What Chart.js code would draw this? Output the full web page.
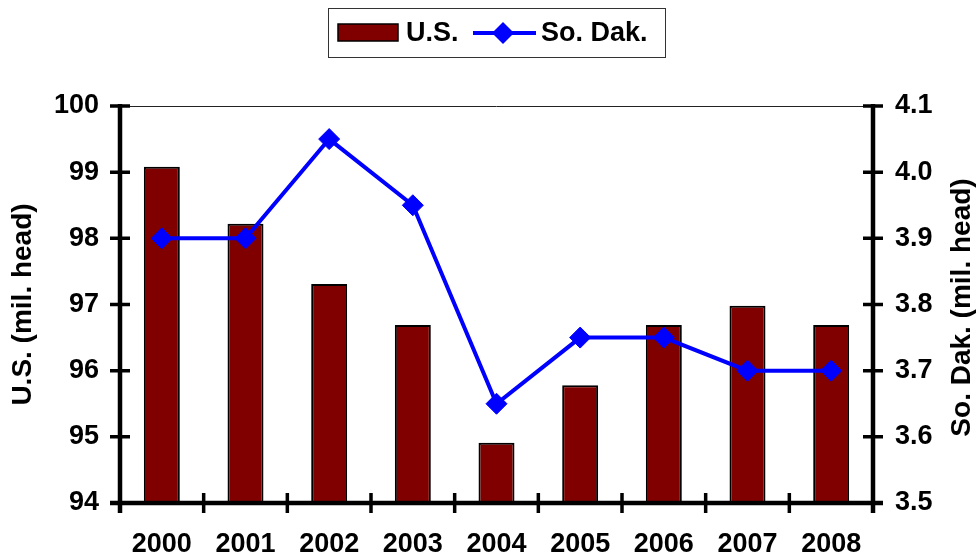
<!DOCTYPE html>
<html>
<head>
<meta charset="utf-8">
<title>U.S. and South Dakota cattle inventory</title>
<script src="https://cdn.jsdelivr.net/npm/chart.js@4/dist/chart.umd.min.js"></script>
<style>
  html, body { margin: 0; padding: 0; background: #fff; }
  #wrap { width: 978px; height: 560px; position: relative; }
</style>
</head>
<body>
<div id="wrap"><canvas id="cattleChart"></canvas></div>
<script>
// ---- Data ----
const years   = ['2000', '2001', '2002', '2003', '2004', '2005', '2006', '2007', '2008'];
const usHead  = [99.08, 98.22, 97.31, 96.69, 94.91, 95.78, 96.69, 96.98, 96.69];
const sdHead  = [3.90, 3.90, 4.05, 3.95, 3.65, 3.75, 3.75, 3.70, 3.70];
const usRange = [94, 100];
const sdRange = [3.5, 4.1];
const usStep  = 1;
const sdStep  = 0.1;

const FONT = "'Liberation Sans', Arial, sans-serif";
const BAR_COLOR  = '#800000';
const LINE_COLOR = '#0000ff';

// Draws the axis lines + crossing tick marks, the box top, the legend
// and the right-hand title (which reads bottom-to-top like the left one).
const frameAndLegend = {
  id: 'frameAndLegend',
  afterDatasetsDraw(chart) {
    const { ctx, chartArea: a, scales } = chart;
    const t = 10;
    ctx.save();

    // thin top border
    ctx.strokeStyle = '#222';
    ctx.lineWidth = 1;
    ctx.beginPath();
    ctx.moveTo(a.left, a.top + 0.5);
    ctx.lineTo(a.right, a.top + 0.5);
    ctx.stroke();

    // thick axes
    ctx.strokeStyle = '#000';
    ctx.lineWidth = 4.5;
    ctx.beginPath();
    ctx.moveTo(a.left, a.top - 2);
    ctx.lineTo(a.left, a.bottom + t);
    ctx.moveTo(a.right, a.top - 2);
    ctx.lineTo(a.right, a.bottom + t);
    ctx.moveTo(a.left - t, a.bottom);
    ctx.lineTo(a.right + t, a.bottom);
    ctx.stroke();

    // tick marks crossing the axes
    ctx.lineWidth = 3.5;
    ctx.beginPath();
    scales.y.ticks.forEach(tk => {
      const y = scales.y.getPixelForValue(tk.value);
      ctx.moveTo(a.left - t, y);
      ctx.lineTo(a.left + t, y);
    });
    scales.y1.ticks.forEach(tk => {
      const y = scales.y1.getPixelForValue(tk.value);
      ctx.moveTo(a.right - t, y);
      ctx.lineTo(a.right + t, y);
    });
    for (let i = 0; i <= years.length; i++) {
      const x = scales.x.getPixelForValue(i - 0.5);
      ctx.moveTo(x, a.bottom - t);
      ctx.lineTo(x, a.bottom + t);
    }
    ctx.stroke();
    ctx.restore();
  },
  afterDraw(chart) {
    const { ctx, chartArea: a } = chart;
    const ds = chart.data.datasets;
    ctx.save();

    // right axis title
    ctx.fillStyle = '#000';
    ctx.font = 'bold 28px ' + FONT;
    ctx.textAlign = 'center';
    ctx.textBaseline = 'middle';
    ctx.translate(962, (a.top + a.bottom) / 2 + 3);
    ctx.rotate(-Math.PI / 2);
    ctx.fillText('So. Dak. (mil. head)', 0, 0);
    ctx.setTransform(1, 0, 0, 1, 0, 0);

    // legend box
    ctx.strokeStyle = '#333';
    ctx.lineWidth = 1;
    ctx.strokeRect(328.5, 8.5, 337, 49);

    ctx.fillStyle = BAR_COLOR;
    ctx.fillRect(338, 24, 60, 17);
    ctx.strokeStyle = '#000';
    ctx.lineWidth = 1.5;
    ctx.strokeRect(338, 24, 60, 17);

    ctx.fillStyle = '#000';
    ctx.font = 'bold 27px ' + FONT;
    ctx.textAlign = 'left';
    ctx.textBaseline = 'middle';
    ctx.fillText(ds[1].label, 406, 34);

    ctx.strokeStyle = LINE_COLOR;
    ctx.lineWidth = 4;
    ctx.beginPath();
    ctx.moveTo(473, 33);
    ctx.lineTo(536, 33);
    ctx.stroke();
    ctx.fillStyle = LINE_COLOR;
    ctx.beginPath();
    ctx.moveTo(503 - 11, 33);
    ctx.lineTo(503, 33 - 11);
    ctx.lineTo(503 + 11, 33);
    ctx.lineTo(503, 33 + 11);
    ctx.closePath();
    ctx.fill();

    ctx.fillStyle = '#000';
    ctx.fillText(ds[0].label, 541, 34);
    ctx.restore();
  }
};

new Chart(document.getElementById('cattleChart'), {
  data: {
    labels: years,
    datasets: [
      {
        type: 'line',
        label: 'So. Dak.',
        data: sdHead,
        yAxisID: 'y1',
        order: 0,
        borderColor: LINE_COLOR,
        backgroundColor: LINE_COLOR,
        borderWidth: 4,
        tension: 0,
        pointStyle: 'rectRot',
        pointRadius: 10.5,
        pointBorderWidth: 1,
        pointBackgroundColor: LINE_COLOR,
        pointBorderColor: LINE_COLOR
      },
      {
        type: 'bar',
        label: 'U.S.',
        data: usHead,
        yAxisID: 'y',
        order: 1,
        backgroundColor: BAR_COLOR,
        borderColor: '#000',
        borderWidth: 2,
        borderSkipped: 'bottom',
        categoryPercentage: 1,
        barPercentage: 0.43
      }
    ]
  },
  options: {
    responsive: true,
    maintainAspectRatio: false,
    animation: false,
    layout: { padding: { top: 106, left: 0, right: 0, bottom: 0 } },
    plugins: {
      legend: { display: false },
      tooltip: { enabled: false }
    },
    scales: {
      x: {
        grid: { display: false, drawTicks: false },
        border: { display: false },
        ticks: {
          color: '#000',
          font: { family: FONT, size: 27, weight: 'bold' },
          padding: 25,
          maxRotation: 0,
          autoSkip: false
        },
        afterFit: s => { s.height = 57; }
      },
      y: {
        position: 'left',
        min: usRange[0],
        max: usRange[1],
        grid: { display: false, drawTicks: false },
        border: { display: false },
        ticks: {
          stepSize: usStep,
          color: '#000',
          font: { family: FONT, size: 27, weight: 'bold' },
          padding: 21
        },
        title: {
          display: true,
          text: 'U.S. (mil. head)',
          color: '#000',
          font: { family: FONT, size: 28, weight: 'bold' },
          padding: { top: 6, bottom: 0 }
        },
        afterFit: s => { s.width = 120; }
      },
      y1: {
        position: 'right',
        min: sdRange[0],
        max: sdRange[1],
        grid: { display: false, drawTicks: false },
        border: { display: false },
        ticks: {
          stepSize: sdStep,
          color: '#000',
          font: { family: FONT, size: 27, weight: 'bold' },
          padding: 22,
          callback: v => Number(v).toFixed(1)
        },
        afterFit: s => { s.width = 105; }
      }
    }
  },
  plugins: [frameAndLegend]
});
</script>
</body>
</html>
